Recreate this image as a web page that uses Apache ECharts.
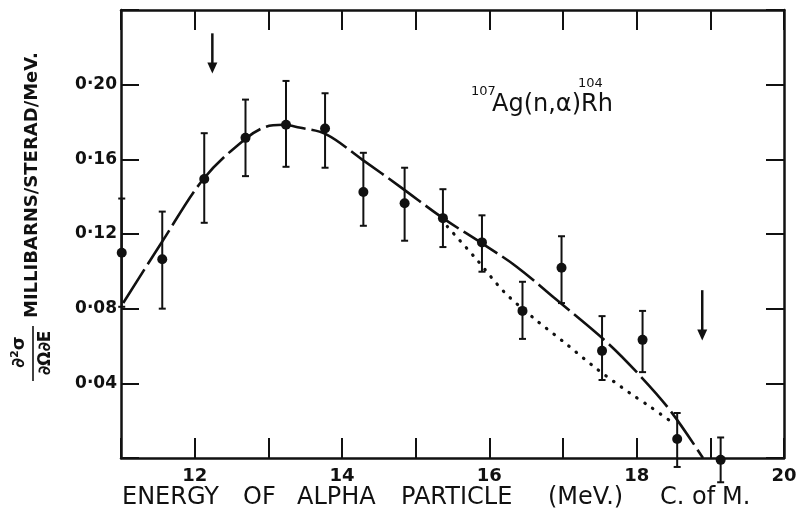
<!DOCTYPE html>
<html>
<head>
<meta charset="utf-8">
<script src="https://cdn.jsdelivr.net/npm/echarts@6/dist/echarts.min.js"></script>
<style>
  html, body { margin: 0; padding: 0; background: #fff; }
  #chart { width: 806px; height: 519px; }
</style>
</head>
<body>
<div id="chart"></div>
<script>
// Measured points: alpha energy (MeV, C. of M.) and d2sigma/dOmega dE (mb/sr/MeV)
const energy       = [11.01, 11.56, 12.13, 12.69, 13.24, 13.77, 14.29, 14.85, 15.37, 15.90, 16.45, 16.98, 17.53, 18.08, 18.55, 19.14];
const crossSection = [0.110, 0.1065, 0.1495, 0.1715, 0.1785, 0.1765, 0.1425, 0.1365, 0.1285, 0.1155, 0.0788, 0.1019, 0.0574, 0.0633, 0.0102, -0.001];
const errorLow     = [0.081, 0.080, 0.126, 0.151, 0.156, 0.1555, 0.1244, 0.1164, 0.113, 0.0998, 0.0638, 0.083, 0.0418, 0.046, -0.0048, -0.013];
const errorHigh    = [0.139, 0.132, 0.174, 0.192, 0.202, 0.1954, 0.1635, 0.1555, 0.144, 0.130, 0.0944, 0.1188, 0.076, 0.0788, 0.0241, 0.011];

// Fitted evaporation curve (long dashes)
const fitEnergy = [11.03, 11.56, 12.13, 12.69, 12.97, 13.20, 13.42, 13.78, 14.27, 14.80, 15.37, 15.90, 16.37, 16.88, 17.59, 18.01, 18.45, 18.90];
const fitValue  = [0.083, 0.116, 0.150, 0.171, 0.1775, 0.1785, 0.177, 0.1735, 0.160, 0.145, 0.1285, 0.115, 0.1025, 0.0858, 0.0622, 0.0456, 0.0257, 0.0];

// Alternative high-energy tail (dotted)
const tailEnergy = [15.43, 15.82, 16.20, 16.60, 17.00, 17.45, 17.90, 18.20, 18.45];
const tailValue  = [0.124, 0.1067, 0.089, 0.075, 0.0625, 0.048, 0.035, 0.027, 0.020];

// Threshold arrows: energy, tail value, tip value
const arrowEnergy = [12.24, 18.89];
const arrowTail   = [0.2275, 0.0899];
const arrowTip    = [0.206, 0.063];

// Axis tick labels
const xTickLabels = { 12: '12', 14: '14', 16: '16', 18: '18', 20: '20' };
const yTickLabels = ['0·04', '0·08', '0·12', '0·16', '0·20'];

// Words of the energy-axis title
const xTitleWords = ['ENERGY', 'OF', 'ALPHA', 'PARTICLE', '(MeV.)', 'C.', 'of', 'M.'];
const xTitleLeft  = [122, 243, 297, 401, 548, 660, 692, 722];

const ink = '#111';
const chart = echarts.init(document.getElementById('chart'), null, { renderer: 'canvas' });

const pointData = energy.map((e, i) => [e, crossSection[i]]);
const barData   = energy.map((e, i) => [e, errorLow[i], errorHigh[i]]);
const fitData   = fitEnergy.map((e, i) => [e, fitValue[i]]);
const tailData  = tailEnergy.map((e, i) => [e, tailValue[i]]);
const arrowData = arrowEnergy.map((e, i) => [e, arrowTail[i], arrowTip[i]]);

const frameLine = { show: true, onZero: false, lineStyle: { color: ink, width: 2.5 } };
const tickStyle = len => ({ inside: true, length: len, lineStyle: { color: ink, width: 2 } });

const yLabel = v => {
  const k = Math.round(v / 0.04);
  return (k >= 1 && k <= 5) ? yTickLabels[k - 1] : '';
};

const titleFont = '24px "DejaVu Sans"';
const xTitle = xTitleWords.map((w, i) => ({
  type: 'text', x: xTitleLeft[i], y: 498,
  style: { text: w, font: titleFont, fill: ink, textAlign: 'left', textVerticalAlign: 'middle' }
}));

chart.setOption({
  animation: false,
  backgroundColor: '#fff',
  grid: { left: 121, right: 22, top: 10, bottom: 61 },
  xAxis: [
    {
      type: 'value', min: 11, max: 20, interval: 1, position: 'bottom',
      axisLine: frameLine, axisTick: tickStyle(20), splitLine: { show: false },
      axisLabel: {
        formatter: v => xTickLabels[Math.round(v)] || '',
        fontSize: 18, fontWeight: 'bold', fontFamily: 'DejaVu Sans', color: ink, margin: 9
      }
    },
    {
      type: 'value', min: 11, max: 20, interval: 1, position: 'top',
      axisLine: frameLine, axisTick: tickStyle(20), splitLine: { show: false },
      axisLabel: { show: false }
    }
  ],
  yAxis: [
    {
      type: 'value', min: 0, max: 0.24, interval: 0.04, position: 'left',
      axisLine: frameLine, axisTick: tickStyle(18), splitLine: { show: false },
      axisLabel: {
        formatter: yLabel,
        fontSize: 17, fontWeight: 'bold', fontFamily: 'DejaVu Sans', color: ink, margin: 4
      }
    },
    {
      type: 'value', min: 0, max: 0.24, interval: 0.04, position: 'right',
      axisLine: frameLine, axisTick: tickStyle(18), splitLine: { show: false },
      axisLabel: { show: false }
    }
  ],
  series: [
    {
      type: 'line', data: fitData, smooth: 0.35, showSymbol: false, symbol: 'none',
      lineStyle: { color: ink, width: 2.6, type: [40, 6], cap: 'butt' }, z: 3
    },
    {
      type: 'line', data: tailData, smooth: 0.3, showSymbol: false, symbol: 'none',
      lineStyle: { color: ink, width: 3.2, type: [0.5, 9], cap: 'round' }, z: 3
    },
    {
      type: 'custom', data: barData, clip: false, z: 4,
      renderItem: (params, api) => {
        const x = api.value(0);
        const lo = api.coord([x, api.value(1)]);
        const hi = api.coord([x, api.value(2)]);
        const cap = 3.5;
        const st = { stroke: ink, lineWidth: 2 };
        return {
          type: 'group',
          children: [
            { type: 'line', shape: { x1: lo[0], y1: lo[1], x2: hi[0], y2: hi[1] }, style: st },
            { type: 'line', shape: { x1: hi[0] - cap, y1: hi[1], x2: hi[0] + cap, y2: hi[1] }, style: st },
            { type: 'line', shape: { x1: lo[0] - cap, y1: lo[1], x2: lo[0] + cap, y2: lo[1] }, style: st }
          ]
        };
      }
    },
    {
      type: 'scatter', data: pointData, symbol: 'circle', symbolSize: 10, clip: false, z: 5,
      itemStyle: { color: ink, opacity: 1 }
    },
    {
      type: 'custom', data: arrowData, clip: false, z: 5,
      renderItem: (params, api) => {
        const x = api.value(0);
        const a = api.coord([x, api.value(1)]);
        const b = api.coord([x, api.value(2)]);
        return {
          type: 'group',
          children: [
            { type: 'line', shape: { x1: a[0], y1: a[1], x2: b[0], y2: b[1] - 8 }, style: { stroke: ink, lineWidth: 2.5 } },
            { type: 'polygon', shape: { points: [[b[0] - 5, b[1] - 11], [b[0] + 5, b[1] - 11], [b[0], b[1]]] }, style: { fill: ink } }
          ]
        };
      }
    }
  ],
  graphic: [
    // reaction label
    { type: 'text', x: 471, y: 92, style: { text: '107', font: '13px "DejaVu Sans"', fill: ink, textAlign: 'left', textVerticalAlign: 'middle' } },
    { type: 'text', x: 492, y: 105, style: { text: 'Ag(n,α)Rh', font: '24px "DejaVu Sans"', fill: ink, textAlign: 'left', textVerticalAlign: 'middle' } },
    { type: 'text', x: 578, y: 84, style: { text: '104', font: '13px "DejaVu Sans"', fill: ink, textAlign: 'left', textVerticalAlign: 'middle' } },
    // y-axis title
    { type: 'text', x: 19, y: 352, rotation: Math.PI / 2, style: { text: '∂²σ', font: 'bold 18px "DejaVu Sans"', fill: ink, textAlign: 'center', textVerticalAlign: 'middle' } },
    { type: 'line', shape: { x1: 33, y1: 326, x2: 33, y2: 381 }, style: { stroke: ink, lineWidth: 1.6 } },
    { type: 'text', x: 46, y: 353, rotation: Math.PI / 2, style: { text: '∂Ω∂E', font: 'bold 17px "DejaVu Sans"', fill: ink, textAlign: 'center', textVerticalAlign: 'middle' } },
    { type: 'text', x: 32, y: 318, rotation: Math.PI / 2, style: { text: 'MILLIBARNS/STERAD/MeV.', font: 'bold 18px "DejaVu Sans"', fill: ink, textAlign: 'left', textVerticalAlign: 'middle' } }
  ].concat(xTitle)
});
</script>
</body>
</html>
